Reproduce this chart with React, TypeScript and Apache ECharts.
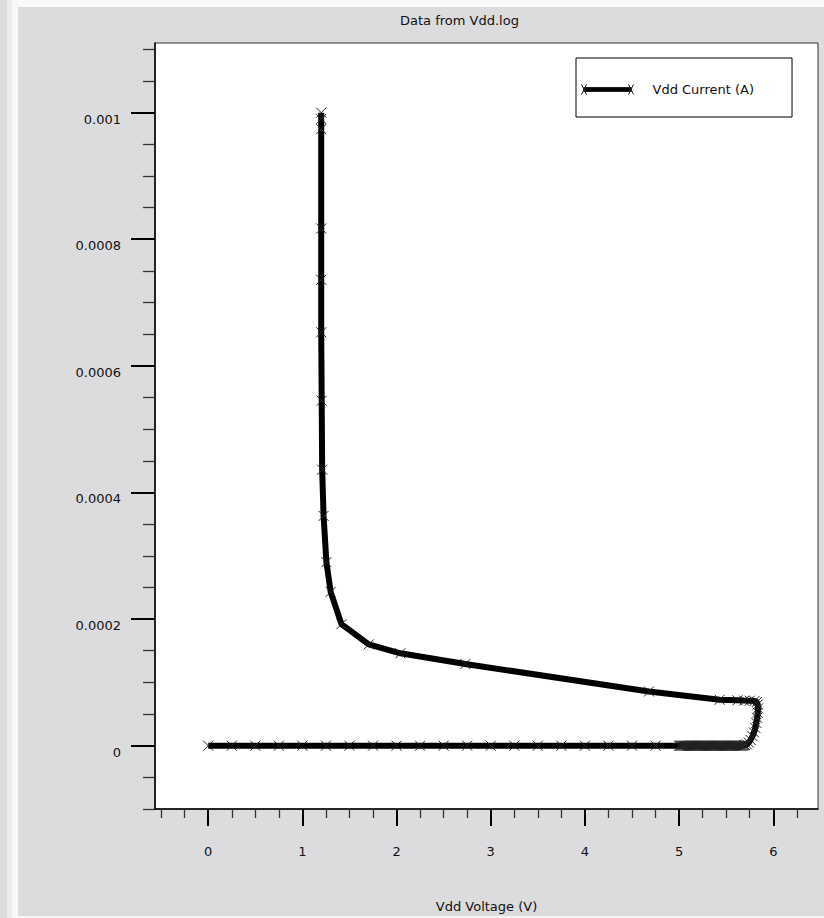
import React, { useEffect, useRef } from "react";
import * as echarts from "echarts";

// Off-state sweep: Vdd stepped from 0 V, finer steps approaching breakdown
const offStateVoltage = [
  0, 0.25, 0.5, 0.75, 1, 1.25, 1.5, 1.75, 2, 2.25, 2.5, 2.75, 3, 3.25, 3.5,
  3.75, 4, 4.25, 4.5, 4.75, 5,
  5.01, 5.02, 5.03, 5.04, 5.05, 5.06, 5.07, 5.08, 5.09, 5.1,
  5.11, 5.12, 5.13, 5.14, 5.15, 5.16, 5.17, 5.18, 5.19, 5.2,
  5.21, 5.22, 5.23, 5.24, 5.25, 5.26, 5.27, 5.28, 5.29, 5.3,
  5.31, 5.32, 5.33, 5.34, 5.35, 5.36, 5.37, 5.38, 5.39, 5.4,
  5.41, 5.42, 5.43, 5.44, 5.45, 5.46, 5.47, 5.48, 5.49, 5.5,
  5.51, 5.52, 5.53, 5.54, 5.55, 5.56, 5.57, 5.58, 5.59, 5.6,
  5.61, 5.62, 5.63, 5.64, 5.65, 5.66, 5.67, 5.68, 5.69, 5.7,
];
const offStateCurrent = [
  0, 0, 0, 0, 0, 0, 0, 0, 0, 0, 0, 0, 0, 0, 0, 0, 0, 0, 0, 0, 0,
  0, 0, 0, 0, 0, 0, 0, 0, 0, 0,
  0, 0, 0, 0, 0, 0, 0, 0, 0, 0,
  0, 0, 0, 0, 0, 0, 0, 0, 0, 0,
  0, 0, 0, 0, 0, 0, 0, 0, 0, 0,
  0, 0, 0, 0, 0, 0, 0, 0, 0, 0,
  0, 0, 0, 0, 0, 0, 0, 0, 0, 0,
  0, 0, 0, 0, 0, 0, 0, 0.0000003, 0.0000006, 0.000001,
];

// Breakdown and snapback branch down to the holding voltage
const snapbackVoltage = [
  5.72, 5.74, 5.76, 5.78, 5.795, 5.81, 5.82, 5.83, 5.835, 5.838, 5.835, 5.825,
  5.8, 5.75, 5.69, 5.62, 5.43, 4.68, 2.73, 2.04, 1.705, 1.415, 1.3, 1.255,
  1.225, 1.21, 1.205, 1.2, 1.2, 1.2, 1.2, 1.2, 1.2,
];
const snapbackCurrent = [
  0.000002, 0.000005, 0.000009, 0.000015, 0.000021, 0.000028, 0.000036,
  0.000044, 0.000052, 0.000059, 0.000065, 0.000069, 0.0000705, 0.000071,
  0.0000712, 0.0000716, 0.0000726, 0.0000857, 0.000129, 0.000146, 0.00016,
  0.000192, 0.000243, 0.00029, 0.000363, 0.000436, 0.000545, 0.000653,
  0.000736, 0.000817, 0.000974, 0.00099, 0.001,
];

const xMajorTicks = [0, 1, 2, 3, 4, 5, 6];
const xMinorTicks = [
  -0.5, -0.25, 0.25, 0.5, 0.75, 1.25, 1.5, 1.75, 2.25, 2.5, 2.75, 3.25, 3.5,
  3.75, 4.25, 4.5, 4.75, 5.25, 5.5, 5.75, 6.25,
];
const yMajorTicks = [0, 0.0002, 0.0004, 0.0006, 0.0008, 0.001];
const yMajorLabels = ["0", "0.0002", "0.0004", "0.0006", "0.0008", "0.001"];
const yMinorTicks = [
  -0.0001, -0.00005, 0.00005, 0.0001, 0.00015, 0.00025, 0.0003, 0.00035,
  0.00045, 0.0005, 0.00055, 0.00065, 0.0007, 0.00075, 0.00085, 0.0009,
  0.00095, 0.00105, 0.0011,
];

const FONT = "'DejaVu Sans', sans-serif";
const X_MIN = -0.565;
const X_MAX = 6.475;
const Y_MIN = -0.0001;
const Y_MAX = 0.00111;

const CROSS = "path://M0,0L10,10M10,0L0,10";
const LEGEND_ICON =
  "path://M0,1L5,11M0,11L5,1M47,1L52,11M47,11L52,1M2,4L50,4L50,8L2,8Z";

export default function App() {
  const ref = useRef<HTMLDivElement>(null);

  useEffect(() => {
    document.body.style.margin = "0";
    if (!ref.current) return;
    const chart = echarts.init(ref.current, undefined, { renderer: "svg" });

    const data: number[][] = [];
    offStateVoltage.forEach((v, i) => data.push([v, offStateCurrent[i]]));
    snapbackVoltage.forEach((v, i) => data.push([v, snapbackCurrent[i]]));

    const labelText = {
      fontFamily: FONT,
      fontSize: 13,
      color: "#111",
    };

    chart.setOption({
      animation: false,
      backgroundColor: "#dcdbde",
      graphic: [
        { type: "rect", shape: { x: 7, y: 0, width: 5, height: 918 }, style: { fill: "#ececec" }, silent: true },
        { type: "rect", shape: { x: 12, y: 0, width: 6, height: 918 }, style: { fill: "#f8f8f8" }, silent: true },
        { type: "rect", shape: { x: 18, y: 0, width: 806, height: 7 }, style: { fill: "#fafafa" }, silent: true },
        { type: "rect", shape: { x: 18, y: 916, width: 806, height: 2 }, style: { fill: "#f4f4f4" }, silent: true },
      ],
      title: {
        text: "Data from Vdd.log",
        left: 400,
        top: 14,
        padding: 0,
        textStyle: { ...labelText, fontWeight: "normal" },
      },
      legend: {
        left: 576,
        top: 58,
        padding: [25, 38, 21, 5],
        backgroundColor: "#fff",
        borderColor: "#000",
        borderWidth: 1,
        borderRadius: 0,
        itemWidth: 52,
        itemHeight: 12,
        icon: LEGEND_ICON,
        itemStyle: { color: "#000", borderColor: "#222", borderWidth: 1 },
        textStyle: { ...labelText, padding: [0, 0, 0, 14] },
        selectedMode: false,
        data: ["Vdd Current (A)"],
      },
      grid: {
        left: 155,
        top: 43,
        right: 6,
        bottom: 109,
        show: true,
        backgroundColor: "#fff",
        borderColor: "#333",
        borderWidth: 1,
      },
      xAxis: [
        {
          type: "value",
          position: "bottom",
          min: X_MIN,
          max: X_MAX,
          axisLine: { onZero: false, lineStyle: { color: "#000", width: 1.5 } },
          axisTick: { customValues: xMinorTicks, length: 9, lineStyle: { color: "#333", width: 1.3 } },
          axisLabel: { show: false },
          splitLine: { show: false },
          name: "Vdd Voltage (V)",
          nameLocation: "middle",
          nameGap: 91,
          nameTextStyle: labelText,
        },
        {
          type: "value",
          position: "bottom",
          min: X_MIN,
          max: X_MAX,
          axisLine: { show: false, onZero: false },
          axisTick: { customValues: xMajorTicks, length: 17, lineStyle: { color: "#000", width: 2 } },
          axisLabel: { customValues: xMajorTicks, margin: 36, ...labelText },
          splitLine: { show: false },
        },
      ],
      yAxis: [
        {
          type: "value",
          position: "left",
          min: Y_MIN,
          max: Y_MAX,
          axisLine: { show: true, onZero: false, lineStyle: { color: "#000", width: 1.5 } },
          axisTick: { customValues: yMinorTicks, length: 12, lineStyle: { color: "#333", width: 1.3 } },
          axisLabel: { show: false },
          splitLine: { show: false },
        },
        {
          type: "value",
          position: "left",
          min: Y_MIN,
          max: Y_MAX,
          axisLine: { show: false, onZero: false },
          axisTick: { customValues: yMajorTicks, length: 24, lineStyle: { color: "#000", width: 2 } },
          axisLabel: {
            customValues: yMajorTicks,
            margin: 34,
            verticalAlign: "top",
            lineHeight: 13,
            ...labelText,
            formatter: (value: number) => {
              const idx = yMajorTicks.findIndex((t) => Math.abs(t - value) < 1e-12);
              return idx >= 0 ? yMajorLabels[idx] : "";
            },
          },
          splitLine: { show: false },
        },
      ],
      series: [
        {
          name: "Vdd Current (A)",
          type: "line",
          xAxisIndex: 0,
          yAxisIndex: 0,
          data,
          symbol: CROSS,
          symbolSize: 10,
          showAllSymbol: true,
          lineStyle: { color: "#000", width: 6 },
          itemStyle: { color: "rgba(0,0,0,0)", borderColor: "#222", borderWidth: 1 },
          emphasis: { disabled: true },
        },
      ],
    });

    return () => chart.dispose();
  }, []);

  return <div ref={ref} style={{ width: 824, height: 918 }} />;
}
